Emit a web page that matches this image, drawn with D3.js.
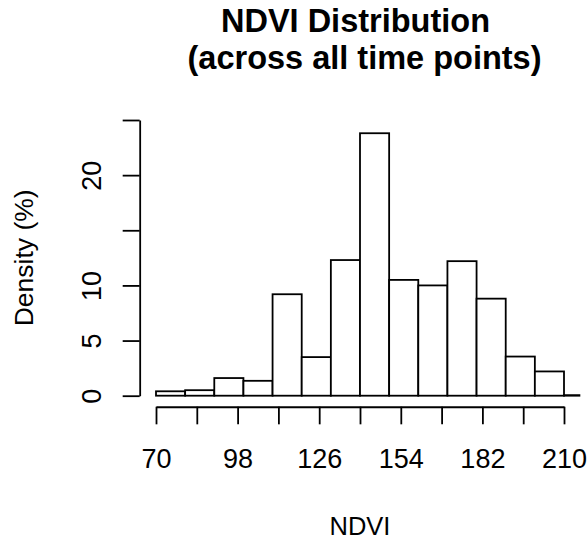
<!DOCTYPE html>
<html>
<head>
<meta charset="utf-8">
<script src="https://cdn.jsdelivr.net/npm/d3@7"></script>
<style>
  body { margin: 0; background: #fff; }
  svg text { font-family: "Liberation Sans", Arial, sans-serif; fill: #000; }
</style>
</head>
<body>
<div id="chart"></div>
<script>
// bin edges (NDVI) and percentage of values per bin
const binStarts = [70, 80, 90, 100, 110, 120, 130, 140, 150, 160, 170, 180, 190, 200, 210];
const binWidth = 10;
const density = [0.4, 0.5, 1.6, 1.35, 9.2, 3.5, 12.3, 23.8, 10.5, 10.0, 12.2, 8.8, 3.55, 2.2, 0.05];

const xTicks = [70, 84, 98, 112, 126, 140, 154, 168, 182, 196, 210];
const xLabelled = [70, 98, 126, 154, 182, 210];
const yTicks = [0, 5, 10, 15, 20, 25];
const yLabelled = [0, 5, 10, 20];

const WIDTH = 588, HEIGHT = 541;

const x = d3.scaleLinear().domain([70, 210]).range([156, 564]);
const y = d3.scaleLinear().domain([0, 25]).range([395.7, 120]);

// R-style plot region: 4% padding on each side of the limits
const plotLeft = x(70 - 0.04 * 140), plotRight = x(210 + 0.04 * 140);
const plotTop = y(25 + 0.04 * 25), plotBottom = y(0 - 0.04 * 25);

const svg = d3.select("#chart")
    .append("svg")
    .attr("width", WIDTH)
    .attr("height", HEIGHT);

svg.append("clipPath")
    .attr("id", "plot-clip")
    .append("rect")
    .attr("x", plotLeft)
    .attr("y", plotTop)
    .attr("width", plotRight - plotLeft)
    .attr("height", plotBottom - plotTop);

// bars
svg.append("g")
    .attr("clip-path", "url(#plot-clip)")
    .selectAll("rect")
    .data(binStarts)
    .enter()
    .append("rect")
        .attr("x", (d) => x(d))
        .attr("y", (d, i) => y(density[i]))
        .attr("width", (d) => x(d + binWidth) - x(d))
        .attr("height", (d, i) => y(0) - y(density[i]))
        .attr("fill", "#fff")
        .attr("stroke", "#000")
        .attr("stroke-width", 1.8);

// x axis
const xAxis = svg.append("g")
    .attr("transform", "translate(0," + plotBottom + ")")
    .call(d3.axisBottom(x)
        .tickValues(xTicks)
        .tickSize(17.6)
        .tickSizeOuter(0)
        .tickFormat((d) => xLabelled.includes(d) ? d : ""));
xAxis.selectAll("path, line").attr("stroke", "#000").attr("stroke-width", 1.8);
xAxis.selectAll("text")
    .attr("y", 60.8)
    .attr("dy", null)
    .style("font-size", "27px");

// y axis
const yAxis = svg.append("g")
    .attr("transform", "translate(" + plotLeft + ",0)")
    .call(d3.axisLeft(y)
        .tickValues(yTicks)
        .tickSize(17)
        .tickSizeOuter(0)
        .tickFormat((d) => yLabelled.includes(d) ? d : ""));
yAxis.selectAll("path, line").attr("stroke", "#000").attr("stroke-width", 1.8);
yAxis.selectAll("text")
    .attr("transform", "rotate(-90)")
    .attr("x", 0)
    .attr("y", -38.3)
    .attr("dy", null)
    .attr("text-anchor", "middle")
    .style("font-size", "27px");

const cx = (plotLeft + plotRight) / 2;

// titles
const title = svg.append("text")
    .attr("text-anchor", "middle")
    .style("font-size", "32.5px")
    .style("font-weight", "bold")
    .style("white-space", "pre");
title.append("tspan").attr("x", cx).attr("y", 32).text("NDVI Distribution ");
title.append("tspan").attr("x", cx).attr("y", 69).text(" (across all time points)");

svg.append("text")
    .attr("x", cx)
    .attr("y", 535)
    .attr("text-anchor", "middle")
    .style("font-size", "25.5px")
    .text("NDVI");

svg.append("text")
    .attr("transform", "translate(33," + (plotTop + plotBottom) / 2 + ") rotate(-90)")
    .attr("text-anchor", "middle")
    .style("font-size", "26.5px")
    .text("Density (%)");
</script>
</body>
</html>
